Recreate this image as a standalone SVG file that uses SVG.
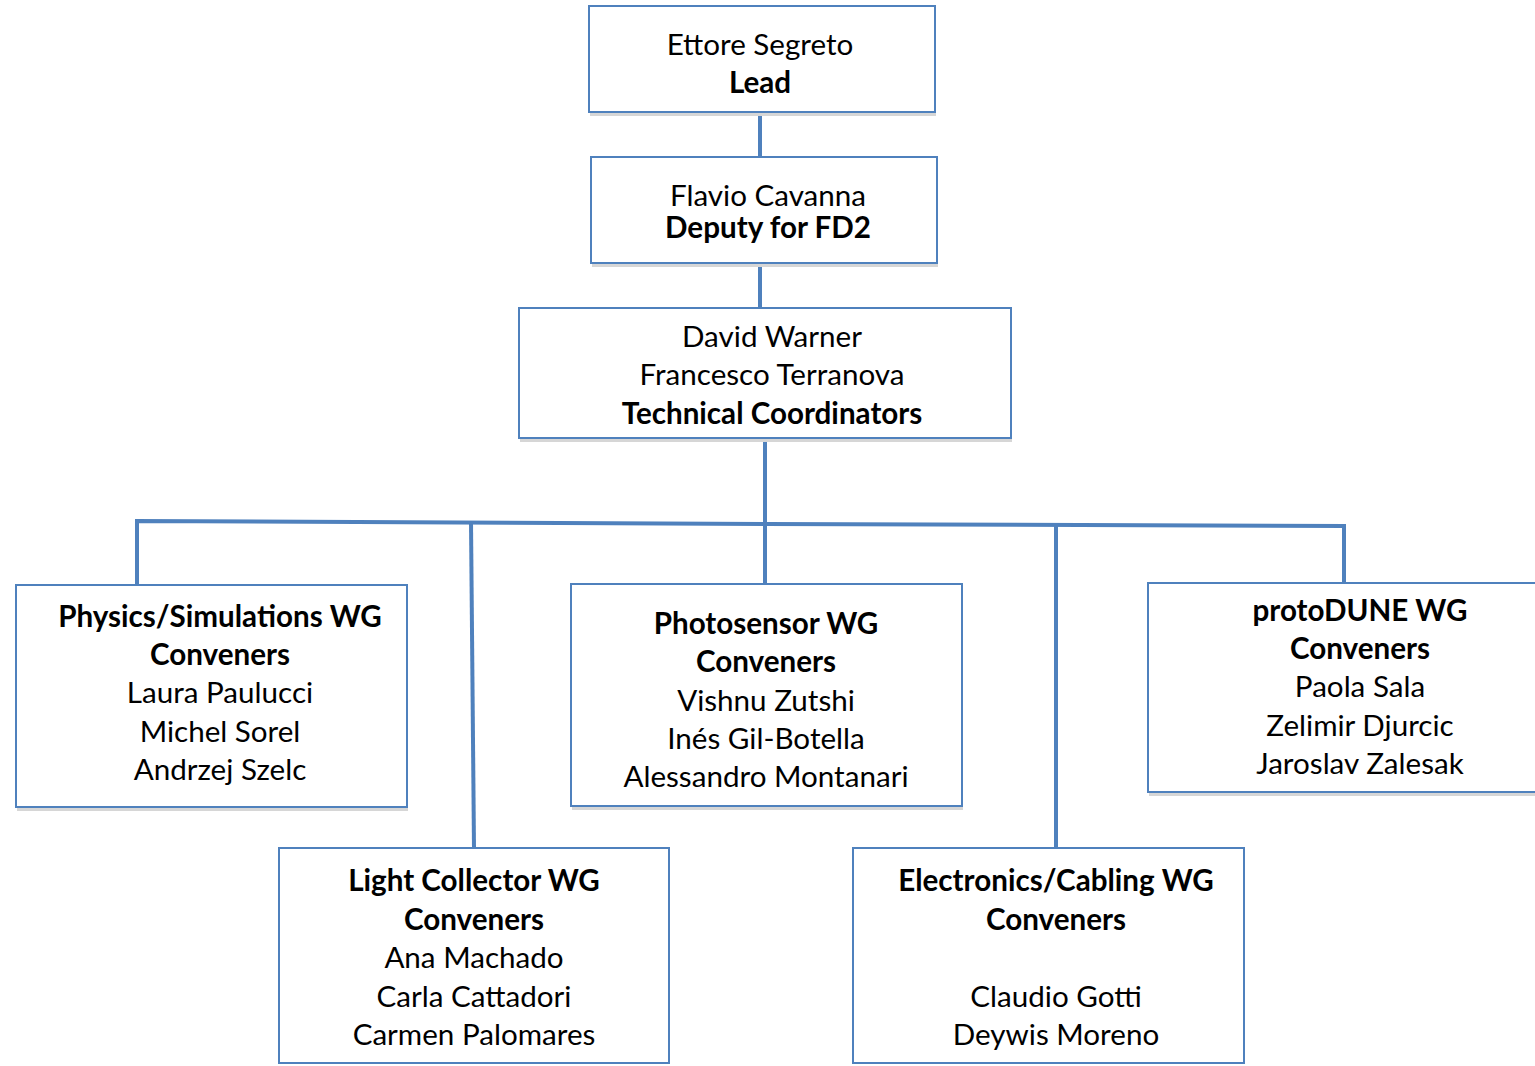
<svg xmlns="http://www.w3.org/2000/svg" width="1535" height="1066" viewBox="0 0 1535 1066">
<style>
.box{fill:#ffffff;stroke:#4f81bd;stroke-width:2}
.sh{fill:#d6d6d6}
.t{font-family:Lato,"Noto Sans",sans-serif;font-size:29.6px;fill:#000;text-anchor:middle}
.b{font-weight:bold}
.c{fill:none;stroke:#4f81bd;stroke-width:4}
</style>
<rect width="1535" height="1066" fill="#ffffff"/>
<g id="connectors">
<line class="c" x1="760" y1="112" x2="760" y2="157"/>
<line class="c" x1="760" y1="263" x2="760" y2="308"/>
<line class="c" x1="765" y1="438" x2="765" y2="524"/>
<polyline class="c" points="137,585 137,521 765,524 1344,526 1344,583"/>
<line class="c" x1="471" y1="522" x2="474" y2="848"/>
<line class="c" x1="765" y1="524" x2="765" y2="584"/>
<line class="c" x1="1056" y1="526" x2="1056" y2="850"/>
</g>
<g id="lead">
<rect class="sh" x="590" y="112" width="346" height="4"/>
<rect class="box" x="589" y="6" width="346" height="106"/>
<text class="t" x="760" y="55">Ettore Segreto</text>
<text class="t b" x="760" y="93">Lead</text>
</g>
<g id="deputy">
<rect class="sh" x="592" y="263" width="346" height="4"/>
<rect class="box" x="591" y="157" width="346" height="106"/>
<text class="t" x="768" y="206">Flavio Cavanna</text>
<text class="t b" x="768" y="238">Deputy for FD2</text>
</g>
<g id="tech">
<rect class="sh" x="520" y="438" width="492" height="4"/>
<rect class="box" x="519" y="308" width="492" height="130"/>
<text class="t" x="772" y="347">David Warner</text>
<text class="t" x="772" y="385">Francesco Terranova</text>
<text class="t b" x="772" y="424">Technical Coordinators</text>
</g>
<g id="physics">
<rect class="sh" x="17" y="807" width="391" height="4"/>
<rect class="box" x="16" y="585" width="391" height="222"/>
<text class="t b" x="220" y="627">Physics/Simulations WG</text>
<text class="t b" x="220" y="665">Conveners</text>
<text class="t" x="220" y="703">Laura Paulucci</text>
<text class="t" x="220" y="742">Michel Sorel</text>
<text class="t" x="220" y="780">Andrzej Szelc</text>
</g>
<g id="photosensor">
<rect class="sh" x="572" y="806" width="391" height="4"/>
<rect class="box" x="571" y="584" width="391" height="222"/>
<text class="t b" x="766" y="634">Photosensor WG</text>
<text class="t b" x="766" y="672">Conveners</text>
<text class="t" x="766" y="711">Vishnu Zutshi</text>
<text class="t" x="766" y="749">Inés Gil-Botella</text>
<text class="t" x="766" y="787">Alessandro Montanari</text>
</g>
<g id="protodune">
<rect class="sh" x="1149" y="792" width="390" height="4"/>
<rect class="box" x="1148" y="583" width="392" height="209"/>
<text class="t b" x="1360" y="621">protoDUNE WG</text>
<text class="t b" x="1360" y="659">Conveners</text>
<text class="t" x="1360" y="697">Paola Sala</text>
<text class="t" x="1360" y="736">Zelimir Djurcic</text>
<text class="t" x="1360" y="774">Jaroslav Zalesak</text>
</g>
<g id="lightcollector">
<rect class="box" x="279" y="848" width="390" height="215"/>
<text class="t b" x="474" y="891">Light Collector WG</text>
<text class="t b" x="474" y="930">Conveners</text>
<text class="t" x="474" y="968">Ana Machado</text>
<text class="t" x="474" y="1007">Carla Cattadori</text>
<text class="t" x="474" y="1045">Carmen Palomares</text>
</g>
<g id="electronics">
<rect class="box" x="853" y="848" width="391" height="215"/>
<text class="t b" x="1056" y="891">Electronics/Cabling WG</text>
<text class="t b" x="1056" y="930">Conveners</text>
<text class="t" x="1056" y="1007">Claudio Gotti</text>
<text class="t" x="1056" y="1045">Deywis Moreno</text>
</g>
</svg>
